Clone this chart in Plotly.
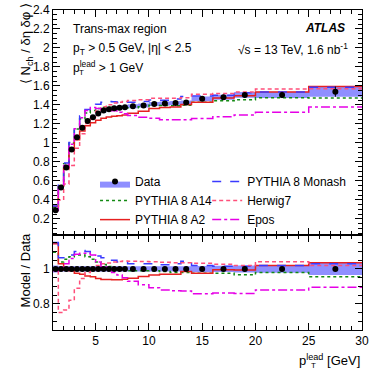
import plotly.graph_objects as go
from plotly.subplots import make_subplots

# pT lead bin edges [GeV]
edges = [1, 1.5, 2, 2.5, 3, 3.5, 4, 4.5, 5, 5.5, 6, 6.5, 7, 7.5, 8,
         9, 10, 11, 12, 13, 14, 16, 18, 20, 25, 30]

# data < N_ch / deta dphi >, trans-max
data = [0.29, 0.53, 0.74, 0.93, 1.06, 1.16, 1.23, 1.27, 1.31, 1.34, 1.355, 1.365,
        1.37, 1.375, 1.385, 1.395, 1.41, 1.415, 1.42, 1.425, 1.465, 1.48, 1.505,
        1.505, 1.54]
data_relerr = [0.02, 0.015, 0.015, 0.015, 0.015, 0.015, 0.015, 0.015, 0.015, 0.015,
               0.015, 0.015, 0.015, 0.015, 0.015, 0.015, 0.015, 0.015, 0.015, 0.015,
               0.017, 0.018, 0.02, 0.022, 0.035]

# MC predictions
a14 = [0.318, 0.551, 0.781, 0.995, 1.145, 1.253, 1.316, 1.340, 1.362, 1.374, 1.375,
       1.372, 1.370, 1.368, 1.371, 1.381, 1.396, 1.394, 1.392, 1.397, 1.428, 1.443,
       1.454, 1.475, 1.472]
a2 = [0.332, 0.546, 0.736, 0.921, 1.034, 1.125, 1.181, 1.213, 1.238, 1.260, 1.274,
      1.280, 1.285, 1.293, 1.312, 1.334, 1.362, 1.373, 1.377, 1.404, 1.428, 1.473,
      1.497, 1.535, 1.594]
monash = [0.334, 0.564, 0.788, 1.004, 1.166, 1.282, 1.353, 1.384, 1.408, 1.427, 1.436,
          1.433, 1.425, 1.430, 1.427, 1.437, 1.452, 1.450, 1.463, 1.489, 1.494, 1.502,
          1.528, 1.535, 1.586]
herwig = [0.290, 0.398, 0.566, 0.763, 0.943, 1.096, 1.205, 1.276, 1.336, 1.380, 1.402,
          1.420, 1.428, 1.437, 1.447, 1.454, 1.469, 1.469, 1.471, 1.476, 1.513, 1.521,
          1.535, 1.568, 1.571]
epos = [0.287, 0.530, 0.762, 0.986, 1.150, 1.264, 1.341, 1.372, 1.362, 1.357, 1.348,
        1.338, 1.323, 1.306, 1.288, 1.269, 1.259, 1.245, 1.243, 1.245, 1.256, 1.276,
        1.294, 1.324, 1.378]

FONT = "Liberation Sans, Arial, sans-serif"
BAND = "#8f8fff"

centers = [(edges[i] + edges[i + 1]) / 2 for i in range(len(data))]
err = [d * r for d, r in zip(data, data_relerr)]


def steps(vals):
    return list(vals) + [vals[-1]]


fig = make_subplots(rows=2, cols=1, shared_xaxes=True, vertical_spacing=0,
                    row_heights=[0.703, 0.297])

# data band, top and ratio
for row, lo, hi in [(1, [d - e for d, e in zip(data, err)], [d + e for d, e in zip(data, err)]),
                    (2, [1 - r for r in data_relerr], [1 + r for r in data_relerr])]:
    fig.add_trace(go.Scatter(x=edges, y=steps(lo), mode="lines", line=dict(width=0, shape="hv"),
                             showlegend=False, hoverinfo="skip"), row=row, col=1)
    fig.add_trace(go.Scatter(x=edges, y=steps(hi), mode="lines", line=dict(width=0, shape="hv"),
                             fill="tonexty", fillcolor=BAND, showlegend=False,
                             hoverinfo="skip"), row=row, col=1)

models = [
    ("PYTHIA 8 A14", a14, "#138a13", "dot", "legend"),
    ("PYTHIA 8 A2", a2, "#e62020", "solid", "legend"),
    ("PYTHIA 8 Monash", monash, "#3a3aff", "dash", "legend2"),
    ("Herwig7", herwig, "#ff4f7a", "4px,3px", "legend2"),
    ("Epos", epos, "#e600e6", "dashdot", "legend2"),
]

# legend entry for data (band + marker)
fig.add_trace(go.Scatter(x=[None], y=[None], mode="markers", fill="toself", fillcolor=BAND,
                         marker=dict(color="black", size=6), line=dict(width=0),
                         name="Data", legend="legend"), row=1, col=1)

for name, vals, col, dash, leg in models:
    ratio = [v / d for v, d in zip(vals, data)]
    fig.add_trace(go.Scatter(x=edges, y=steps(vals), mode="lines", name=name, legend=leg,
                             line=dict(color=col, dash=dash, width=1.5, shape="hv")),
                  row=1, col=1)
    fig.add_trace(go.Scatter(x=edges, y=steps(ratio), mode="lines", showlegend=False,
                             line=dict(color=col, dash=dash, width=1.5, shape="hv")),
                  row=2, col=1)

# data points
fig.add_trace(go.Scatter(x=centers, y=data, mode="markers", showlegend=False,
                         marker=dict(color="black", size=6),
                         error_y=dict(type="data", array=err, color="black", thickness=1, width=0)),
              row=1, col=1)
fig.add_trace(go.Scatter(x=centers, y=[1] * len(data), mode="markers", showlegend=False,
                         marker=dict(color="black", size=6)), row=2, col=1)

axis_common = dict(showline=True, linecolor="black", linewidth=1, mirror="allticks",
                   ticks="inside", ticklen=7, tickcolor="black", showgrid=False,
                   zeroline=False, automargin=False,
                   tickfont=dict(family=FONT, size=12, color="black"))

fig.update_xaxes(range=[1, 30], tick0=0, dtick=5,
                 minor=dict(ticks="inside", dtick=1, ticklen=4, tickcolor="black"),
                 **axis_common)
fig.update_xaxes(showticklabels=False, row=1, col=1)
fig.update_yaxes(range=[0.03, 2.4], tick0=0, dtick=0.2,
                 minor=dict(ticks="inside", dtick=0.05, ticklen=4, tickcolor="black"),
                 row=1, col=1, **axis_common)
fig.update_yaxes(range=[0.65, 1.195], tick0=0, dtick=0.2,
                 minor=dict(ticks="inside", dtick=0.05, ticklen=4, tickcolor="black"),
                 row=2, col=1, **axis_common)

ann = []
txt = dict(family=FONT, size=12, color="black")
ann.append(dict(x=0.057, y=0.941, text="Trans-max region", xanchor="left"))
ann.append(dict(x=0.057, y=0.877, text="p<sub>T</sub> > 0.5 GeV, |η| < 2.5", xanchor="left"))
ann.append(dict(x=0.057, y=0.823, text="p<sup>lead</sup> > 1 GeV", xanchor="left"))
ann.append(dict(x=0.079, y=0.805, text="T", xanchor="left", font=dict(family=FONT, size=8, color="black")))
ann.append(dict(x=0.951, y=0.943, text="<b><i>ATLAS</i></b>", xanchor="right"))
ann.append(dict(x=0.961, y=0.878, text="√s = 13 TeV, 1.6 nb<sup>-1</sup>", xanchor="right"))
ann.append(dict(x=-0.120, y=0.895, text="⟨ N<sub>ch</sub> / δη δφ ⟩", textangle=-90,
                font=dict(family=FONT, size=13, color="black")))
ann.append(dict(x=-0.120, y=0.1875, text="Model / Data", textangle=-90,
                font=dict(family=FONT, size=13, color="black")))
ann.append(dict(x=1.0, y=-0.094, text="p<sup>lead</sup> [GeV]", xanchor="right",
                font=dict(family=FONT, size=13, color="black")))
ann.append(dict(x=0.8285, y=-0.110, text="T", xanchor="left",
                font=dict(family=FONT, size=8, color="black")))
for a in ann:
    a.setdefault("font", txt)
    a.update(xref="paper", yref="paper", showarrow=False, yanchor="middle")

fig.update_layout(
    width=374, height=374,
    margin=dict(l=53, r=12, t=10, b=44),
    plot_bgcolor="white", paper_bgcolor="white",
    font=dict(family=FONT, size=12, color="black"),
    annotations=ann,
    legend=dict(x=0.136, y=0.509, xanchor="left", yanchor="top", bgcolor="rgba(0,0,0,0)",
                font=dict(family=FONT, size=12), tracegroupgap=0, traceorder="normal"),
    legend2=dict(x=0.499, y=0.509, xanchor="left", yanchor="top", bgcolor="rgba(0,0,0,0)",
                 font=dict(family=FONT, size=12), tracegroupgap=0, traceorder="normal"),
)

# page body has a default margin; drop it so the figure fills the window
fig.write_html("out.html", config={"displayModeBar": False},
               post_script="document.body.style.margin='0px';")
